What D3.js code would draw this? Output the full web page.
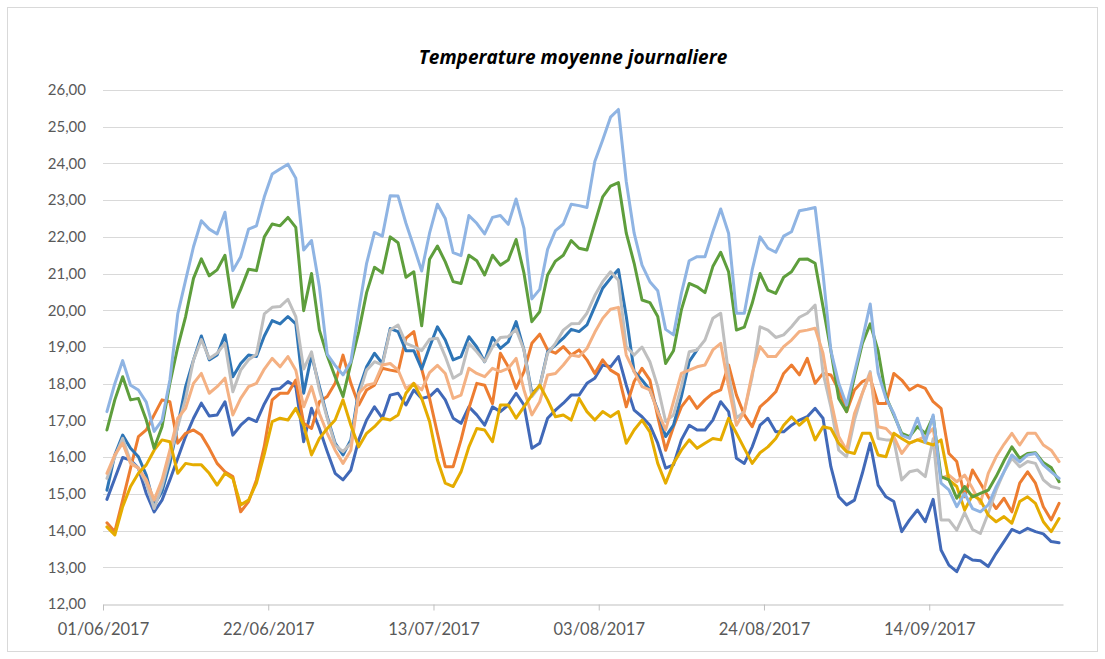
<!DOCTYPE html>
<html>
<head>
<meta charset="utf-8">
<script src="https://cdn.jsdelivr.net/npm/d3@7"></script>
<style>
  html, body { margin: 0; padding: 0; background: #fff; }
  svg { display: block; font-family: Lato, "Open Sans", sans-serif; }
</style>
</head>
<body>
<svg id="chart" width="1105" height="659"></svg>
<script>
// Daily mean temperatures, 1 June – 30 September 2017 (one value per day)
const startDate = new Date(2017, 5, 1);
const endDate = new Date(2017, 9, 1);
const days = d3.timeDay.range(startDate, endDate);

const yTicks = [12, 13, 14, 15, 16, 17, 18, 19, 20, 21, 22, 23, 24, 25, 26];
const xTickDates = [
  new Date(2017, 5, 1), new Date(2017, 5, 22), new Date(2017, 6, 13),
  new Date(2017, 7, 3), new Date(2017, 7, 24), new Date(2017, 8, 14)
];

const serieA = [ // light blue
  17.24, 18.0, 18.63, 17.96, 17.83, 17.5, 16.7, 17.0, 18.1, 19.9,
  20.82, 21.73, 22.44, 22.21, 22.08, 22.67, 21.08, 21.46, 22.21, 22.3,
  23.09, 23.71, 23.85, 23.98, 23.6, 21.64, 21.9, 20.64, 18.8, 18.5,
  18.24, 18.6, 20.0, 21.28, 22.12, 22.02, 23.12, 23.11, 22.37, 21.73,
  21.07, 22.1, 22.89, 22.5, 21.57, 21.49, 22.58, 22.37, 22.08, 22.53,
  22.58, 22.34, 23.03, 22.23, 20.31, 20.57, 21.66, 22.17, 22.35, 22.89,
  22.85, 22.8, 24.05, 24.64, 25.26, 25.47, 23.5, 22.1, 21.23, 20.78,
  20.53, 19.48, 19.33, 20.46, 21.35, 21.46, 21.46, 22.14, 22.76, 22.1,
  19.92, 19.92, 21.1, 22.0, 21.69, 21.58, 22.02, 22.14, 22.71, 22.75,
  22.8, 21.0, 18.9, 18.01, 17.42, 18.3, 19.2, 20.17, 18.3, 17.6,
  17.19, 16.6, 16.51, 17.06, 16.4, 17.15, 15.29, 15.11, 14.65, 15.01,
  14.6, 14.51, 14.7, 15.19, 15.6, 16.06, 15.87, 16.06, 16.1, 15.79,
  15.6, 15.42
];
const serieB = [ // green
  16.74, 17.56, 18.19, 17.56, 17.6, 17.01, 16.24, 16.83, 18.01, 19.0,
  19.83, 20.87, 21.4, 20.94, 21.1, 21.5, 20.08, 20.57, 21.12, 21.08,
  22.0, 22.35, 22.3, 22.53, 22.26, 19.99, 21.0, 19.46, 18.76, 18.19,
  17.65, 18.55, 19.42, 20.48, 21.17, 21.02, 22.0, 21.84, 20.9, 21.05,
  19.58, 21.39, 21.75, 21.32, 20.78, 20.73, 21.5, 21.35, 20.96, 21.5,
  21.23, 21.37, 21.93, 21.01, 19.69, 19.96, 20.96, 21.34, 21.5, 21.9,
  21.69, 21.64, 22.37, 23.09, 23.38, 23.48, 22.1, 21.28, 20.28, 20.21,
  19.83, 18.55, 18.9, 20.01, 20.73, 20.64, 20.48, 21.19, 21.58, 21.05,
  19.46, 19.54, 20.19, 21.0, 20.55, 20.46, 20.9, 21.05, 21.39, 21.4,
  21.28, 20.1, 18.9, 17.6, 17.24, 18.19, 19.1, 19.63, 18.9, 17.65,
  17.15, 16.65, 16.56, 16.83, 16.65, 17.1, 15.47, 15.38, 14.88, 15.2,
  14.92, 15.01, 15.1, 15.47, 15.9, 16.28, 15.97, 16.1, 16.12, 15.85,
  15.72, 15.33
];
const serieC = [ // gray
  15.42, 16.01, 16.51, 15.88, 15.7, 15.29, 14.6, 15.2, 16.01, 16.83,
  17.6, 18.65, 19.2, 18.69, 18.83, 19.1, 17.78, 18.37, 18.65, 18.8,
  19.9, 20.08, 20.1, 20.3, 19.83, 18.4, 18.87, 17.83, 17.06, 16.33,
  16.15, 16.38, 17.69, 18.37, 18.6, 18.51, 19.46, 19.6, 19.1, 19.01,
  18.9, 19.21, 19.24, 18.74, 18.15, 18.28, 19.1, 18.87, 18.6, 19.0,
  19.26, 19.28, 19.48, 18.92, 17.65, 17.92, 18.83, 19.1, 19.46, 19.63,
  19.64, 19.92, 20.4, 20.78, 21.05, 20.82, 19.01, 18.78, 19.0, 18.6,
  17.92, 16.97, 17.15, 17.92, 18.87, 18.92, 19.19, 19.78, 19.92, 18.28,
  17.06, 17.24, 18.19, 19.55, 19.46, 19.26, 19.33, 19.55, 19.81, 19.92,
  20.14, 18.3, 17.37, 16.19, 16.01, 17.01, 17.74, 18.33, 16.51, 16.47,
  16.47, 15.38, 15.6, 15.65, 15.47, 16.5, 14.29, 14.29, 14.01, 14.49,
  14.03, 13.92, 14.47, 15.1, 15.6, 15.97, 15.74, 15.88, 15.83, 15.38,
  15.2, 15.15
];
const serieD = [ // blue (record stops on 6 August)
  15.1, 16.06, 16.6, 16.24, 16.01, 15.51, 14.7, 15.06, 15.83, 16.87,
  17.92, 18.65, 19.3, 18.65, 18.78, 19.33, 18.19, 18.55, 18.78, 18.74,
  19.3, 19.72, 19.63, 19.83, 19.63, 17.74, 18.78, 17.92, 17.1, 16.38,
  16.06, 16.47, 17.83, 18.46, 18.83, 18.55, 19.5, 19.42, 18.9, 18.9,
  18.4, 19.0, 19.55, 19.19, 18.65, 18.74, 19.28, 19.0, 18.6, 19.26,
  18.96, 19.14, 19.69, 18.92, 17.74, 17.92, 18.87, 19.05, 19.24, 19.48,
  19.42, 19.6, 20.1, 20.6, 20.87, 21.11, 19.83, 18.33, 18.1, 17.83,
  17.28, 16.56, 16.87, 17.65, 18.6, 18.92
];
const serieE = [ // salmon
  15.56, 16.06, 16.38, 15.83, 15.7, 15.38, 14.83, 15.38, 16.19, 17.06,
  17.33, 18.01, 18.28, 17.74, 17.92, 18.15, 17.15, 17.6, 17.92, 18.01,
  18.4, 18.69, 18.46, 18.74, 18.37, 17.37, 17.92, 17.19, 16.65, 16.19,
  15.83, 16.19, 17.74, 17.96, 18.01, 18.51, 18.55, 18.37, 17.87, 18.01,
  17.83, 18.3, 18.5, 18.28, 17.6, 17.69, 18.42, 18.28, 18.19, 18.42,
  18.33, 18.42, 18.69, 17.83, 17.15, 17.51, 18.24, 18.28, 18.51, 18.78,
  18.74, 18.96, 19.4, 19.78, 20.03, 20.08, 18.78, 18.33, 17.92, 17.83,
  17.24, 16.74, 17.51, 18.28, 18.37, 18.46, 18.51, 18.92, 19.1, 17.92,
  16.87, 17.24, 18.28, 19.01, 18.74, 18.74, 19.01, 19.19, 19.42, 19.46,
  19.51, 18.83, 17.56, 16.56, 16.19, 17.19, 17.74, 18.28, 16.83, 16.78,
  16.56, 16.1, 16.38, 16.47, 16.56, 16.78, 15.42, 15.51, 15.33, 15.51,
  15.15, 14.74, 15.56, 16.01, 16.35, 16.65, 16.33, 16.65, 16.65, 16.33,
  16.19, 15.88
];
const serieF = [ // orange
  14.21, 13.97, 14.83, 15.7, 16.56, 16.74, 17.15, 17.56, 17.51, 16.38,
  16.65, 16.74, 16.6, 16.24, 15.83, 15.6, 15.47, 14.51, 14.79, 15.38,
  16.3, 17.56, 17.74, 17.74, 18.1, 16.92, 16.78, 17.51, 17.65, 18.01,
  18.78, 18.01, 17.42, 17.83, 17.96, 18.42, 18.37, 18.33, 19.24, 19.42,
  18.4, 17.6, 16.65, 15.74, 15.74, 16.47, 17.33, 18.01, 17.96, 17.46,
  18.83, 18.46, 17.87, 18.33, 19.1, 19.35, 18.92, 18.83, 19.01, 18.78,
  18.92, 18.65, 18.28, 18.65, 18.37, 18.24, 17.37, 18.06, 18.42, 18.1,
  17.1, 16.19, 16.83, 17.37, 17.65, 17.33, 17.56, 17.74, 17.83, 18.51,
  17.69, 17.15, 16.83, 17.37, 17.56, 17.78, 18.28, 18.51, 18.24, 18.69,
  18.01, 18.28, 18.24, 17.83, 17.24, 17.83, 18.06, 18.15, 17.46, 17.46,
  18.28, 18.1, 17.83, 17.96, 17.87, 17.51, 17.33, 16.1, 15.88, 14.92,
  15.65, 15.29, 14.92, 14.6, 14.88, 14.51, 15.29, 15.6, 15.29, 14.65,
  14.29, 14.74
];
const serieG = [ // dark blue
  14.85, 15.42, 15.99, 15.92, 15.7, 15.01, 14.51, 14.83, 15.38, 15.97,
  16.56, 17.06, 17.47, 17.12, 17.15, 17.51, 16.6, 16.87, 17.06, 16.97,
  17.45, 17.84, 17.87, 18.06, 17.92, 16.42, 17.33, 16.78, 16.15, 15.56,
  15.38, 15.65, 16.47, 17.01, 17.37, 17.06, 17.69, 17.74, 17.42, 17.83,
  17.6, 17.65, 17.85, 17.56, 17.06, 16.92, 17.37, 17.15, 16.87, 17.37,
  17.24, 17.42, 17.74, 17.42, 16.24, 16.38, 17.06, 17.28, 17.47, 17.69,
  17.69, 18.01, 18.15, 18.51, 18.46, 18.74, 17.96, 17.28, 17.1, 16.87,
  16.38, 15.7, 15.79, 16.47, 16.87, 16.74, 16.74, 17.01, 17.51, 17.24,
  15.97, 15.83, 16.28, 16.87, 17.06, 16.69, 16.69, 16.87, 17.01, 17.1,
  17.33, 17.06, 15.74, 14.92, 14.7, 14.83, 15.56, 16.38, 15.24, 14.92,
  14.79, 13.97, 14.29, 14.56, 14.24, 14.85, 13.47, 13.06, 12.88, 13.33,
  13.2, 13.18, 13.02, 13.38, 13.7, 14.03, 13.94, 14.06, 13.97, 13.91,
  13.7, 13.67
];
const serieH = [ // gold
  14.1, 13.88, 14.65, 15.2, 15.56, 15.79, 16.19, 16.47, 16.42, 15.56,
  15.83, 15.79, 15.79, 15.56, 15.24, 15.56, 15.42, 14.7, 14.83, 15.29,
  16.08, 16.97, 17.06, 17.01, 17.33, 16.87, 16.06, 16.51, 16.78, 17.01,
  17.56, 16.87, 16.28, 16.65, 16.83, 17.06, 17.01, 17.15, 17.74, 18.01,
  17.6, 16.97, 15.92, 15.29, 15.2, 15.6, 16.28, 16.78, 16.74, 16.42,
  17.42, 17.42, 17.06, 17.37, 17.69, 17.96, 17.56, 17.1, 17.15, 17.01,
  17.6, 17.24, 17.01, 17.24, 17.1, 17.24, 16.38, 16.74, 17.01, 16.69,
  15.83, 15.29, 15.83, 16.19, 16.47, 16.24, 16.38, 16.51, 16.47, 17.06,
  16.65, 16.24, 15.83, 16.12, 16.28, 16.51, 16.87, 17.1, 16.87, 17.06,
  16.47, 16.83, 16.78, 16.38, 16.15, 16.1, 16.65, 16.65, 16.06, 16.01,
  16.65, 16.51, 16.38, 16.47, 16.4, 16.33, 16.47, 15.38, 15.2, 14.56,
  14.97, 14.83, 14.42, 14.24, 14.38, 14.2, 14.79, 14.92, 14.74, 14.24,
  13.97, 14.33
];

// Drawing order (later series sit on top)
const series = [
  { values: serieG, color: "#4169B8" },
  { values: serieF, color: "#ED7D31" },
  { values: serieD, color: "#2E75B6" },
  { values: serieC, color: "#BFBFBF" },
  { values: serieE, color: "#F4B183" },
  { values: serieH, color: "#E5AC00" },
  { values: serieB, color: "#5E9E3C" },
  { values: serieA, color: "#8FB4E3" }
];

const svg = d3.select("#chart");
const W = 1105, H = 659;
const plot = { left: 103, right: 1063, top: 90, bottom: 604 };

// chart frame
svg.append("rect")
  .attr("x", 7.5).attr("y", 7.5)
  .attr("width", W - 15).attr("height", H - 15)
  .attr("fill", "#fff").attr("stroke", "#D9D9D9").attr("stroke-width", 1);

const x = d3.scaleTime().domain([startDate, endDate]).range([plot.left, plot.right]);
const y = d3.scaleLinear().domain([12, 26]).range([plot.bottom, plot.top]);
const fr = d3.formatLocale({ decimal: ",", thousands: " ", grouping: [3], currency: ["", " €"] });
const fmtY = fr.format(".2f");
const fmtX = d3.timeFormat("%d/%m/%Y");

// horizontal gridlines
svg.append("g")
  .selectAll("line")
  .data(yTicks.filter(t => t > 12))
  .join("line")
  .attr("x1", plot.left).attr("x2", plot.right)
  .attr("y1", d => Math.round(y(d)) + 0.5).attr("y2", d => Math.round(y(d)) + 0.5)
  .attr("stroke", "#D9D9D9").attr("stroke-width", 1);

// y axis labels
const yAxis = d3.axisLeft(y).tickValues(yTicks).tickFormat(fmtY).tickSize(0).tickPadding(17);
svg.append("g")
  .attr("transform", `translate(${plot.left},0)`)
  .call(yAxis)
  .call(g => g.select(".domain").remove())
  .call(g => g.selectAll("text")
    .attr("fill", "#595959").attr("font-size", "15px")
    .attr("font-family", "Lato, 'Open Sans', sans-serif"));

// x axis
const xAxis = d3.axisBottom(x).tickValues(xTickDates).tickFormat(fmtX).tickSize(6).tickSizeOuter(0).tickPadding(13);
svg.append("g")
  .attr("transform", `translate(0,${Math.round(y(12)) + 0.5})`)
  .call(xAxis)
  .call(g => g.select(".domain").attr("stroke", "#BFBFBF"))
  .call(g => g.selectAll(".tick line").attr("stroke", "#BFBFBF"))
  .call(g => g.selectAll("text")
    .attr("fill", "#595959").attr("font-size", "16.5px")
    .attr("font-family", "Lato, 'Open Sans', sans-serif"));

// lines: each daily value placed at the middle of its day
const line = d3.line()
  .defined(d => d != null)
  .x((d, i) => x(d3.timeHour.offset(days[i], 12)))
  .y(d => y(d));

svg.append("g")
  .selectAll("path")
  .data(series)
  .join("path")
  .attr("d", s => line(s.values))
  .attr("fill", "none")
  .attr("stroke", s => s.color)
  .attr("stroke-width", 3)
  .attr("stroke-linejoin", "round")
  .attr("stroke-linecap", "round");

// title
svg.append("text")
  .attr("x", 573).attr("y", 64)
  .attr("text-anchor", "middle")
  .attr("font-family", "'Open Sans', Lato, sans-serif")
  .attr("font-size", "19px")
  .attr("font-weight", "bold")
  .attr("font-style", "italic")
  .attr("fill", "#000")
  .text("Temperature moyenne journaliere");
</script>
</body>
</html>
